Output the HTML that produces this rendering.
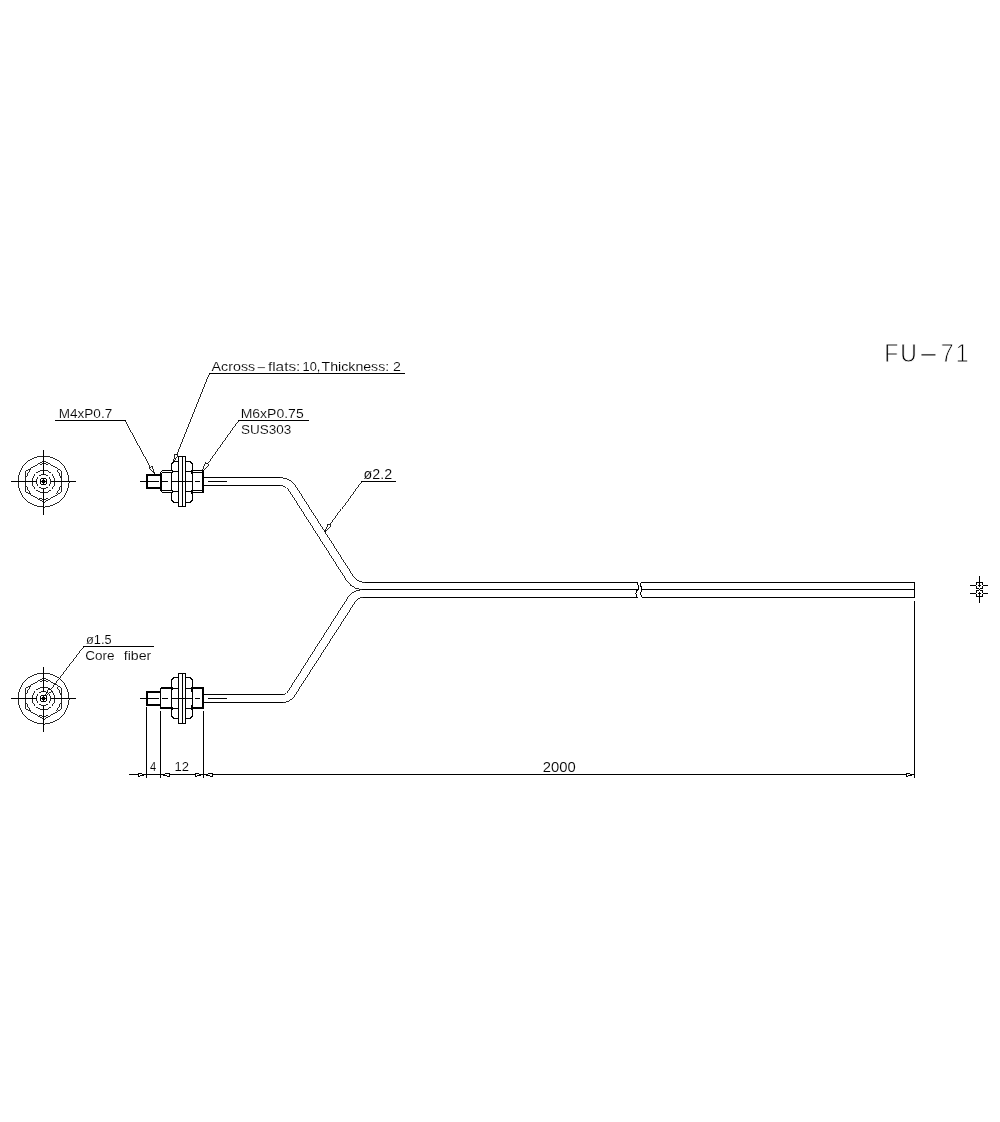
<!DOCTYPE html>
<html><head><meta charset="utf-8"><title>FU-71</title>
<style>
html,body{margin:0;padding:0;background:#fff;}
svg{display:block;}
.ln{fill:none;stroke:#000;stroke-width:1;}
.d{stroke-width:0.85;}
text{font-family:"Liberation Sans",sans-serif;fill:#000;}
.sm text{stroke:#fff;stroke-width:0.12px;}
.sm .big{stroke:#fff;stroke-width:0.8px;}
</style></head><body>
<svg width="1000" height="1122" viewBox="0 0 1000 1122">
<rect width="1000" height="1122" fill="#fff"/>
<defs>
<g id="conn" class="ln">
<line x1="140" y1="0" x2="159" y2="0"/>
<line x1="162" y1="0" x2="168" y2="0"/>
<line x1="172" y1="0" x2="193" y2="0"/>
<line x1="195" y1="0" x2="199.5" y2="0"/>
<line x1="208" y1="0" x2="227" y2="0"/>
<path d="M160,-6.5 H147 V6.5 H160" stroke-width="2"/>
<path d="M171.5,-11 H162.5 L160.5,-9 V9 L162.5,11 H171.5" />
<path d="M161.5,-9 H171.5 M161.5,9 H171.5 M161.5,-9 V9"/>
<path d="M178.5,-20 H174.5 L172.5,-19 L171.5,-17 V-12 L172.5,-10 L171.5,-8 V8 L172.5,10 L171.5,12 V18 L172.5,20 L174.5,21 H178.5"/>
<path d="M172,-10 H178.5 M172,10 H178.5"/>
<path d="M178.5,-25 H185.5 V25 H178.5 Z M182.5,-25 V25"/>
<path d="M185.5,-20 H189.5 L191.5,-19 L192.5,-17 V18 L191.5,20 L189.5,21 H185.5"/>
<path d="M185.5,-10 H192.5 M185.5,10 H192.5"/>
<path d="M192.5,-11 H203 M192.5,11 H203 M192.5,-9 H203 M192.5,9 H203"/>
<path d="M203,-11.5 V11.5" stroke-width="2"/>
<path d="M192,-12 V-8 M192,12 V8" stroke-width="2"/>
</g>
<g id="conn2" class="ln">
<line x1="140" y1="0" x2="159" y2="0"/>
<line x1="162" y1="0" x2="168" y2="0"/>
<line x1="172" y1="0" x2="193" y2="0"/>
<line x1="195" y1="0" x2="199.5" y2="0"/>
<line x1="208" y1="0" x2="227" y2="0"/>
<path d="M160,-6.5 H147 V6.5 H160" stroke-width="2"/>
<path d="M160.5,-11 V10"/>
<path d="M161,-10.5 H171.5 M161,9.5 H171.5" stroke-width="2"/>
<path d="M178.5,-21 H174.5 L172.5,-20 L171.5,-18 V-12 L172.5,-10 L171.5,-8 V8 L172.5,10 L171.5,12 V17 L172.5,19 L174.5,20 H178.5"/>
<path d="M172,-10 H178.5 M172,10 H178.5"/>
<path d="M178.5,-25 H185.5 V25 H178.5 Z M182.5,-25 V25"/>
<path d="M185.5,-21 H189.5 L191.5,-20 L192.5,-18 V17 L191.5,19 L189.5,20 H185.5"/>
<path d="M185.5,-10 H192.5 M185.5,10 H192.5"/>
<path d="M192,-10.5 H203 M192,9.5 H203" stroke-width="2"/>
<path d="M203,-11.5 V10.5" stroke-width="2"/>
<path d="M192,-12 V-7 M192,11 V6" stroke-width="2"/>
</g>
<g id="endv" class="ln">
<path d="M-32.5,0 H-7 M-3.5,0 H3.5 M7,0 H32 M0,-31.5 V-7 M0,-3.5 V3.5 M0,7 V33"/>
<circle class="d" r="25.5"/>
<polygon class="d" points="0,-20.5 17.75,-10.25 17.75,10.25 0,20.5 -17.75,10.25 -17.75,-10.25"/>
<circle class="d" r="17.6" stroke-dasharray="9 9.431" stroke-dashoffset="-4.7"/>
<circle class="d" r="11.2"/><circle class="d" r="7"/><circle r="3.2"/><circle r="1.4"/>
</g>
</defs>
<g class="ln" shape-rendering="crispEdges">
<use href="#conn" x="0" y="481.5"/>
<use href="#conn2" x="0" y="698.5"/>
<use href="#endv" x="43.5" y="481.5"/>
<use href="#endv" x="43.5" y="698.5"/>
<path d="M204,477.5 H280.3"/><path class="d" d="M280.3,477.5 L286.16,478.48 L291.38,481.32 L295.4,485.7 L353.26,576.12 L356.38,579.53 L360.44,581.74 L365,582.5"/><path d="M365,582.5 H637.5"/>
<path d="M204,485.5 H280.3"/><path class="d" d="M280.3,485.5 L283.56,486.04 L286.46,487.62 L288.69,490.05 L347.1,581.3 L351.12,585.68 L356.34,588.52 L362.2,589.5"/><path d="M362.2,589.5 H637.5"/>
<path d="M204,694.5 H282.7"/><path class="d" d="M282.7,694.5 L284.65,694.17 L286.39,693.23 L287.73,691.77 L348.46,596.68 L351.58,593.27 L355.64,591.06 L360.2,590.3"/>
<path d="M204,702.5 H282.7"/><path class="d" d="M282.7,702.5 L287.26,701.74 L291.32,699.53 L294.44,696.12 L355.45,601.6 L357.46,599.41 L360.07,597.99 L363,597.5"/><path d="M363,597.5 H637.5"/>
<path d="M641.5,582.5 H914.5 V597.5 H641.5 M641.5,589.5 H914.5"/>
<path d="M637.5,582.5 Q638.8,586 638.2,589.5 Q636,590.5 636,593.5 Q636,596.5 637.5,597.5"/>
<path d="M641.5,582.5 Q640,584 640.6,586 Q642,587 641.5,589.5 Q640,594 641.5,597.5"/>
<path d="M129,774.5 H138 M146.5,774.5 H160.5 M169,774.5 H195 M212,774.5 H906"/>
<line x1="146.5" y1="707" x2="146.5" y2="778"/>
<line x1="160.5" y1="711" x2="160.5" y2="778"/>
<line x1="203.5" y1="711" x2="203.5" y2="778"/>
<line x1="914.5" y1="601" x2="914.5" y2="778"/>
<path d="M146.5,774.5 L138,773.5 V776.5 Z"/>
<path d="M160.5,774.5 L169,773.5 V776.5 Z"/>
<path d="M203.5,774.5 L195,773.5 V776.5 Z"/>
<path d="M203.5,774.5 L212,773.5 V776.5 Z"/>
<path d="M914.5,774.5 L906,773.5 V776.5 Z"/>
<path d="M55,420.5 H125.5"/><path class="d" d="M125.5,420.5 L150.69,466.97"/><path class="d" d="M154.5,474 L149.11,467.82 L152.27,466.11 Z"/>
<path d="M405,373.5 H209"/><path class="d" d="M209,373.5 L176.48,454.58"/><path class="d" d="M173.5,462 L174.81,453.9 L178.15,455.25 Z"/>
<path d="M309,420.5 H238"/><path class="d" d="M238,420.5 L207.16,463.5"/><path class="d" d="M202.5,470 L205.7,462.45 L208.63,464.55 Z"/>
<path d="M396,481.5 H361"/><path class="d" d="M361,481.5 L329.67,525.01"/><path class="d" d="M325,531.5 L328.21,523.96 L331.14,526.06 Z"/>
<path d="M153.5,646.5 H83"/><path class="d" d="M83,646.5 L50.36,689.15"/><path class="d" d="M45.5,695.5 L48.93,688.05 L51.79,690.24 Z"/>
<circle cx="979.5" cy="585.5" r="3.6"/><circle cx="979.5" cy="593.5" r="3.6"/>
<path d="M970,585.5 H976 M978,585.5 H980.5 M983,585.5 H988 M970,593.5 H976 M978,593.5 H980.5 M983,593.5 H988 M979.5,576 V587 M979.5,592 V603"/>
</g>
<g class="sm" opacity="0.999">
<text y="371.2" font-size="13.4"><tspan x="211.6" textLength="43.6" lengthAdjust="spacingAndGlyphs">Across</tspan><tspan x="256.3" textLength="10.2" lengthAdjust="spacingAndGlyphs">-</tspan><tspan x="267.9" textLength="32.5" lengthAdjust="spacingAndGlyphs">flats:</tspan><tspan x="302.6" textLength="17.8" lengthAdjust="spacingAndGlyphs">10,</tspan><tspan x="321.6" textLength="67.6" lengthAdjust="spacingAndGlyphs">Thickness:</tspan><tspan x="393.1" textLength="7.9" lengthAdjust="spacingAndGlyphs">2</tspan></text>
<text x="58.7" y="418" font-size="12.6" textLength="53.5" lengthAdjust="spacingAndGlyphs">M4xP0.7</text>
<text x="240.7" y="418" font-size="12.6" textLength="63" lengthAdjust="spacingAndGlyphs">M6xP0.75</text>
<text x="241" y="433.5" font-size="12.6" textLength="50.3" lengthAdjust="spacingAndGlyphs">SUS303</text>
<text x="363.6" y="479.3" font-size="14" textLength="28.6" lengthAdjust="spacingAndGlyphs">ø2.2</text>
<text x="86" y="644" font-size="12.6" textLength="25.6" lengthAdjust="spacingAndGlyphs">ø1.5</text>
<text y="659.8" font-size="13.2"><tspan x="85.3" textLength="29.3" lengthAdjust="spacingAndGlyphs">Core</tspan> <tspan x="123.8" textLength="27.5" lengthAdjust="spacingAndGlyphs">fiber</tspan></text>
<text x="150" y="771" font-size="12.6" textLength="6.2" lengthAdjust="spacingAndGlyphs">4</text>
<text x="174.6" y="771" font-size="12.6" textLength="14.5" lengthAdjust="spacingAndGlyphs">12</text>
<text x="542.7" y="772" font-size="14" textLength="33" lengthAdjust="spacingAndGlyphs">2000</text>
<text class="big" font-size="25.8" transform="translate(0,361.7) scale(0.89,1)" y="0"><tspan x="993.5">F</tspan><tspan x="1011.5">U</tspan><tspan x="1030.9" textLength="24.7" lengthAdjust="spacingAndGlyphs">-</tspan><tspan x="1057">7</tspan><tspan x="1074">1</tspan></text>
</g>
</svg>
</body></html>
